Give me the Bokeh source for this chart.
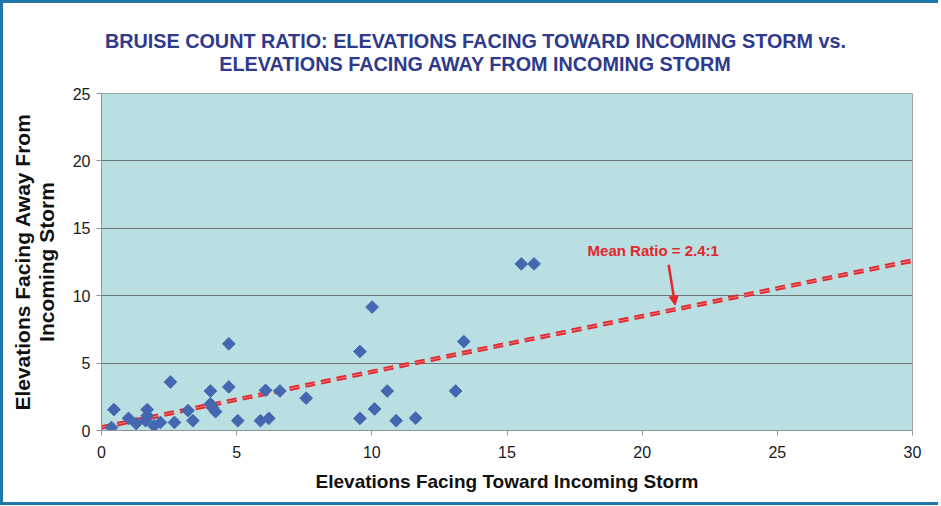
from bokeh.plotting import figure
from bokeh.models import Label, Arrow, NormalHead, FixedTicker, Range1d
from bokeh.layouts import column
from bokeh.core.properties import value
from bokeh.embed import file_html
from bokeh.resources import INLINE

# ---- data ----
toward = [0.46, 0.37, 1.0, 1.28, 1.69, 1.69, 1.63, 1.94, 2.18, 2.55, 2.7, 3.2, 3.38,
          4.03, 4.03, 4.22, 4.1, 4.71, 4.71, 5.04, 5.88, 6.19, 6.07, 6.6, 7.57,
          10.01, 9.56, 10.57, 10.1, 9.56, 10.9, 11.62, 13.1, 13.4, 15.53, 16.0]
away = [1.55, 0.22, 0.9, 0.52, 1.55, 1.1, 0.73, 0.35, 0.6, 3.6, 0.6, 1.48, 0.73,
        2.93, 1.98, 1.4, 1.7, 6.43, 3.23, 0.73, 0.73, 0.9, 2.98, 2.93, 2.4,
        9.16, 5.86, 2.93, 1.6, 0.9, 0.73, 0.92, 2.93, 6.6, 12.36, 12.36]
trend_x = [0, 30]
trend_y = [0.23, 12.6]
x_ticks = [0, 5, 10, 15, 20, 25, 30]
y_ticks = [0, 5, 10, 15, 20, 25]
title_lines = ["BRUISE COUNT RATIO: ELEVATIONS FACING TOWARD INCOMING STORM vs.",
               "ELEVATIONS FACING AWAY FROM INCOMING STORM"]
annot_text = "Mean Ratio = 2.4:1"
annot_pos = (17.98, 13.36)
arrow_start = (20.98, 12.3)
arrow_end = (21.22, 9.3)

FONT = "Liberation Sans"
RED = "#e3262d"
BLUE_BORDER = "#1f77aa"
W = 938
TITLE_H = 80

# ---- title strip (own svg canvas; its frame lines up with the chart frame) ----
t = figure(width=W, height=TITLE_H, output_backend="svg", toolbar_location=None,
           x_range=Range1d(101, 912), y_range=Range1d(0, TITLE_H - 3),
           x_axis_type=None, y_axis_type=None,
           min_border_left=0, min_border_right=0, min_border_top=0, min_border_bottom=0)
t.title.visible = False
t.grid.visible = False
t.outline_line_color = None
t.background_fill_color = "white"
t.border_fill_color = "white"
t.styles = {"border-left": f"3px solid {BLUE_BORDER}", "border-top": f"3px solid {BLUE_BORDER}"}
t.text(x=[475, 475], y=[TITLE_H - 39.5, TITLE_H - 61.5], text=title_lines,
       text_font=value(FONT), text_font_size="19.8px", text_font_style="bold",
       text_color="#2e3a8c", text_align="center", text_baseline="middle")

# ---- main chart ----
p = figure(width=W, height=425, output_backend="svg", toolbar_location=None,
           x_range=Range1d(0, 30), y_range=Range1d(0, 25),
           min_border_left=98, min_border_right=29, min_border_top=13, min_border_bottom=75)
p.title.visible = False
p.styles = {"border-left": f"3px solid {BLUE_BORDER}", "border-bottom": f"3px solid {BLUE_BORDER}"}

p.background_fill_color = "#badfe2"
p.border_fill_color = "white"
p.outline_line_color = "#9aa6a8"

p.xgrid.visible = False
p.ygrid.grid_line_color = "#6b7678"
p.ygrid.grid_line_width = 1.2
p.ygrid.ticker = FixedTicker(ticks=y_ticks)

for ax in (p.xaxis[0], p.yaxis[0]):
    ax.axis_line_color = "#8a9597"
    ax.major_tick_line_color = "#8a9597"
    ax.major_tick_in = 0
    ax.major_tick_out = 5
    ax.minor_tick_line_color = None
    ax.major_label_text_font = FONT
    ax.major_label_text_font_size = "16px"
    ax.major_label_text_color = "#1a1a1a"
    ax.axis_label_text_font = FONT
    ax.axis_label_text_font_style = "bold"
    ax.axis_label_text_color = "#111111"

p.xaxis.ticker = FixedTicker(ticks=x_ticks)
p.yaxis.ticker = FixedTicker(ticks=y_ticks)
p.xaxis.major_label_standoff = 10
p.yaxis.major_label_standoff = 6
p.xaxis.axis_label = "Elevations Facing Toward Incoming Storm"
p.yaxis.axis_label = "Elevations Facing Away From\nIncoming Storm"
p.xaxis.axis_label_text_font_size = "19px"
p.yaxis.axis_label_text_font_size = "21px"
p.yaxis.axis_label_text_line_height = 1.05
p.xaxis.axis_label_standoff = 10
p.yaxis.axis_label_standoff = 12

# trend line
p.line(trend_x, trend_y, line_color=RED, line_width=4.5, line_dash="10 6")
p.line(trend_x, trend_y, line_color="#f3a6a6", line_width=1, line_dash="10 6", line_alpha=0.7)

# points
p.scatter(toward, away, marker="square", angle=0.785398, size=9,
          fill_color="#4468b0", line_color="#4468b0")

# annotation
p.add_layout(Label(x=annot_pos[0], y=annot_pos[1], text=annot_text, text_font=FONT,
                   text_font_size="15px", text_font_style="bold", text_color=RED,
                   text_baseline="middle", text_align="left"))
p.add_layout(Arrow(x_start=arrow_start[0], y_start=arrow_start[1],
                   x_end=arrow_end[0], y_end=arrow_end[1],
                   line_color=RED, line_width=2.5,
                   end=NormalHead(size=9, fill_color=RED, line_color=RED)))

layout = column(t, p, spacing=0)
open("out.html", "w").write(file_html(layout, INLINE))
